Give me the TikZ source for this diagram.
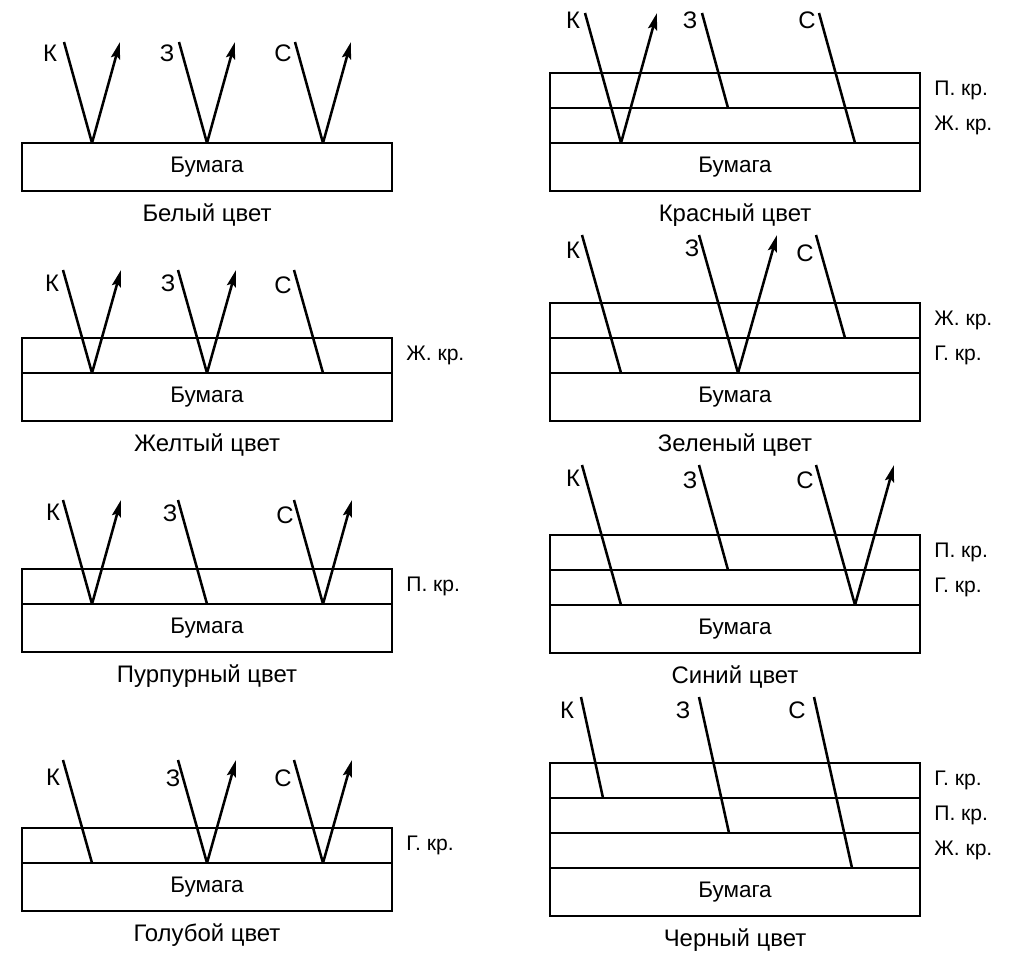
\documentclass[tikz,border=0pt]{standalone}
\usepackage{fontspec}
\setmainfont{Liberation Sans}
\usetikzlibrary{positioning, arrows.meta, calc}
\tikzset{
  paper/.style  = {draw, rectangle, minimum width=9.25cm,
                   minimum height=1.2cm, inner sep=0pt, outer sep=0pt,
                   line width=1.5pt, font=\fontsize{16}{18}\selectfont},
  layer/.style  = {draw, rectangle, minimum width=9.25cm,
                   minimum height=0.875cm, inner sep=0pt, outer sep=0pt,
                   line width=1.5pt},
  laylbl/.style = {inner sep=0pt, anchor=west,
                   font=\fontsize{15}{17}\selectfont},
  capt/.style   = {inner sep=0pt, font=\fontsize{17}{19}\selectfont},
  lbl/.style    = {inner sep=0pt, font=\fontsize{17}{19}\selectfont},
  inray/.style  = {line width=1.8pt},
  outray/.style = {line width=1.8pt,
                   -{Stealth[length=12pt, width=6.5pt, inset=2pt]}},
}

\begin{document}
\begin{tikzpicture}[x=0.025cm, y=-0.025cm]

% ────────────────────────────────────────────────────────────
%  Coordinates are given in pixels of a 1017 x 956 sheet.
%  Left column: boxes centred at x=207, right column at x=735.
%  Rays hit the layers at K ~ +70, Z ~ +186, S ~ +302 from the
%  left edge of the box.
% ────────────────────────────────────────────────────────────
\useasboundingbox (0,0) rectangle (1017,956);

% ═══════════════════════════════════════════════════════════
%  WHITE (left, row 1)
% ═══════════════════════════════════════════════════════════
\node[paper] (w-pap) at (207,167) {Бумага};
\node[capt, below=0.3cm of w-pap] (w-cap) {Белый цвет};

\node[lbl] (w-k) at (50,53)  {К};
\node[lbl] (w-z) at (167,53) {З};
\node[lbl] (w-s) at (283,53) {С};

\coordinate (w-k-in) at (64,42);  \coordinate (w-k-hit) at (92,143);
\coordinate (w-k-out) at (120,42);
\coordinate (w-z-in) at (179,42); \coordinate (w-z-hit) at (207,143);
\coordinate (w-z-out) at (235,42);
\coordinate (w-s-in) at (295,42); \coordinate (w-s-hit) at (323,143);
\coordinate (w-s-out) at (351,42);

\draw[inray]  (w-k-in) -- (w-k-hit);
\draw[outray] (w-k-hit) -- (w-k-out);
\draw[inray]  (w-z-in) -- (w-z-hit);
\draw[outray] (w-z-hit) -- (w-z-out);
\draw[inray]  (w-s-in) -- (w-s-hit);
\draw[outray] (w-s-hit) -- (w-s-out);

% ═══════════════════════════════════════════════════════════
%  RED (right, row 1)
% ═══════════════════════════════════════════════════════════
\node[paper] (r-pap) at (735,167) {Бумага};
\node[layer, above=0pt of r-pap] (r-y) {};
\node[layer, above=0pt of r-y]   (r-m) {};
\node[laylbl, right=0.35cm of r-m] (r-m-l) {П. кр.};
\node[laylbl, right=0.35cm of r-y] (r-y-l) {Ж. кр.};
\node[capt, below=0.3cm of r-pap] (r-cap) {Красный цвет};

\node[lbl] (r-k) at (573,20) {К};
\node[lbl] (r-z) at (690,20) {З};
\node[lbl] (r-s) at (807,20) {С};

\coordinate (r-k-in) at (585,13); \coordinate (r-k-hit) at (621,143);
\coordinate (r-k-out) at (657,13);
\coordinate (r-z-in) at (702,13); \coordinate (r-z-end) at (728,108);
\coordinate (r-s-in) at (819,13); \coordinate (r-s-end) at (855,143);

\draw[inray]  (r-k-in) -- (r-k-hit);
\draw[outray] (r-k-hit) -- (r-k-out);
\draw[inray]  (r-z-in) -- (r-z-end);
\draw[inray]  (r-s-in) -- (r-s-end);

% ═══════════════════════════════════════════════════════════
%  YELLOW (left, row 2)
% ═══════════════════════════════════════════════════════════
\node[paper] (y-pap) at (207,397) {Бумага};
\node[layer, above=0pt of y-pap] (y-y) {};
\node[laylbl, right=0.35cm of y-y] (y-y-l) {Ж. кр.};
\node[capt, below=0.3cm of y-pap] (y-cap) {Желтый цвет};

\node[lbl] (y-k) at (52,283)  {К};
\node[lbl] (y-z) at (168,283) {З};
\node[lbl] (y-s) at (283,285) {С};

\coordinate (y-k-in) at (63,270);  \coordinate (y-k-hit) at (92,373);
\coordinate (y-k-out) at (121,270);
\coordinate (y-z-in) at (178,270); \coordinate (y-z-hit) at (207,373);
\coordinate (y-z-out) at (236,270);
\coordinate (y-s-in) at (294,270); \coordinate (y-s-end) at (323,373);

\draw[inray]  (y-k-in) -- (y-k-hit);
\draw[outray] (y-k-hit) -- (y-k-out);
\draw[inray]  (y-z-in) -- (y-z-hit);
\draw[outray] (y-z-hit) -- (y-z-out);
\draw[inray]  (y-s-in) -- (y-s-end);

% ═══════════════════════════════════════════════════════════
%  GREEN (right, row 2)
% ═══════════════════════════════════════════════════════════
\node[paper] (g-pap) at (735,397) {Бумага};
\node[layer, above=0pt of g-pap] (g-c) {};
\node[layer, above=0pt of g-c]   (g-y) {};
\node[laylbl, right=0.35cm of g-y] (g-y-l) {Ж. кр.};
\node[laylbl, right=0.35cm of g-c] (g-c-l) {Г. кр.};
\node[capt, below=0.3cm of g-pap] (g-cap) {Зеленый цвет};

\node[lbl] (g-k) at (573,250) {К};
\node[lbl] (g-z) at (692,248) {З};
\node[lbl] (g-s) at (805,253) {С};

\coordinate (g-k-in) at (582,235); \coordinate (g-k-end) at (621,373);
\coordinate (g-z-in) at (699,235); \coordinate (g-z-hit) at (738,373);
\coordinate (g-z-out) at (777,235);
\coordinate (g-s-in) at (816,235); \coordinate (g-s-end) at (845,338);

\draw[inray]  (g-k-in) -- (g-k-end);
\draw[inray]  (g-z-in) -- (g-z-hit);
\draw[outray] (g-z-hit) -- (g-z-out);
\draw[inray]  (g-s-in) -- (g-s-end);

% ═══════════════════════════════════════════════════════════
%  MAGENTA (left, row 3)
% ═══════════════════════════════════════════════════════════
\node[paper] (m-pap) at (207,628) {Бумага};
\node[layer, above=0pt of m-pap] (m-m) {};
\node[laylbl, right=0.35cm of m-m] (m-m-l) {П. кр.};
\node[capt, below=0.3cm of m-pap] (m-cap) {Пурпурный цвет};

\node[lbl] (m-k) at (53,512)  {К};
\node[lbl] (m-z) at (170,513) {З};
\node[lbl] (m-s) at (285,515) {С};

\coordinate (m-k-in) at (63,500);  \coordinate (m-k-hit) at (92,604);
\coordinate (m-k-out) at (121,500);
\coordinate (m-z-in) at (178,500); \coordinate (m-z-end) at (207,604);
\coordinate (m-s-in) at (294,500); \coordinate (m-s-hit) at (323,604);
\coordinate (m-s-out) at (352,500);

\draw[inray]  (m-k-in) -- (m-k-hit);
\draw[outray] (m-k-hit) -- (m-k-out);
\draw[inray]  (m-z-in) -- (m-z-end);
\draw[inray]  (m-s-in) -- (m-s-hit);
\draw[outray] (m-s-hit) -- (m-s-out);

% ═══════════════════════════════════════════════════════════
%  BLUE (right, row 3)
% ═══════════════════════════════════════════════════════════
\node[paper] (b-pap) at (735,629) {Бумага};
\node[layer, above=0pt of b-pap] (b-c) {};
\node[layer, above=0pt of b-c]   (b-m) {};
\node[laylbl, right=0.35cm of b-m] (b-m-l) {П. кр.};
\node[laylbl, right=0.35cm of b-c] (b-c-l) {Г. кр.};
\node[capt, below=0.3cm of b-pap] (b-cap) {Синий цвет};

\node[lbl] (b-k) at (573,478) {К};
\node[lbl] (b-z) at (690,480) {З};
\node[lbl] (b-s) at (805,480) {С};

\coordinate (b-k-in) at (582,465); \coordinate (b-k-end) at (621,605);
\coordinate (b-z-in) at (699,465); \coordinate (b-z-end) at (728,570);
\coordinate (b-s-in) at (816,465); \coordinate (b-s-hit) at (855,605);
\coordinate (b-s-out) at (894,465);

\draw[inray]  (b-k-in) -- (b-k-end);
\draw[inray]  (b-z-in) -- (b-z-end);
\draw[inray]  (b-s-in) -- (b-s-hit);
\draw[outray] (b-s-hit) -- (b-s-out);

% ═══════════════════════════════════════════════════════════
%  CYAN (left, row 4)
% ═══════════════════════════════════════════════════════════
\node[paper] (c-pap) at (207,887) {Бумага};
\node[layer, above=0pt of c-pap] (c-c) {};
\node[laylbl, right=0.35cm of c-c] (c-c-l) {Г. кр.};
\node[capt, below=0.3cm of c-pap] (c-cap) {Голубой цвет};

\node[lbl] (c-k) at (53,777)  {К};
\node[lbl] (c-z) at (173,778) {З};
\node[lbl] (c-s) at (283,778) {С};

\coordinate (c-k-in) at (63,760);  \coordinate (c-k-end) at (92,863);
\coordinate (c-z-in) at (178,760); \coordinate (c-z-hit) at (207,863);
\coordinate (c-z-out) at (236,760);
\coordinate (c-s-in) at (294,760); \coordinate (c-s-hit) at (323,863);
\coordinate (c-s-out) at (352,760);

\draw[inray]  (c-k-in) -- (c-k-end);
\draw[inray]  (c-z-in) -- (c-z-hit);
\draw[outray] (c-z-hit) -- (c-z-out);
\draw[inray]  (c-s-in) -- (c-s-hit);
\draw[outray] (c-s-hit) -- (c-s-out);

% ═══════════════════════════════════════════════════════════
%  BLACK (right, row 4)
% ═══════════════════════════════════════════════════════════
\node[paper] (k-pap) at (735,892) {Бумага};
\node[layer, above=0pt of k-pap] (k-y) {};
\node[layer, above=0pt of k-y]   (k-m) {};
\node[layer, above=0pt of k-m]   (k-c) {};
\node[laylbl, right=0.35cm of k-c] (k-c-l) {Г. кр.};
\node[laylbl, right=0.35cm of k-m] (k-m-l) {П. кр.};
\node[laylbl, right=0.35cm of k-y] (k-y-l) {Ж. кр.};
\node[capt, below=0.3cm of k-pap] (k-cap) {Черный цвет};

\node[lbl] (k-k) at (567,710) {К};
\node[lbl] (k-z) at (683,710) {З};
\node[lbl] (k-s) at (797,710) {С};

\coordinate (k-k-in) at (581,697); \coordinate (k-k-end) at (603,798);
\coordinate (k-z-in) at (699,697); \coordinate (k-z-end) at (729,833);
\coordinate (k-s-in) at (814,697); \coordinate (k-s-end) at (852,868);

\draw[inray] (k-k-in) -- (k-k-end);
\draw[inray] (k-z-in) -- (k-z-end);
\draw[inray] (k-s-in) -- (k-s-end);

\end{tikzpicture}
\end{document}
